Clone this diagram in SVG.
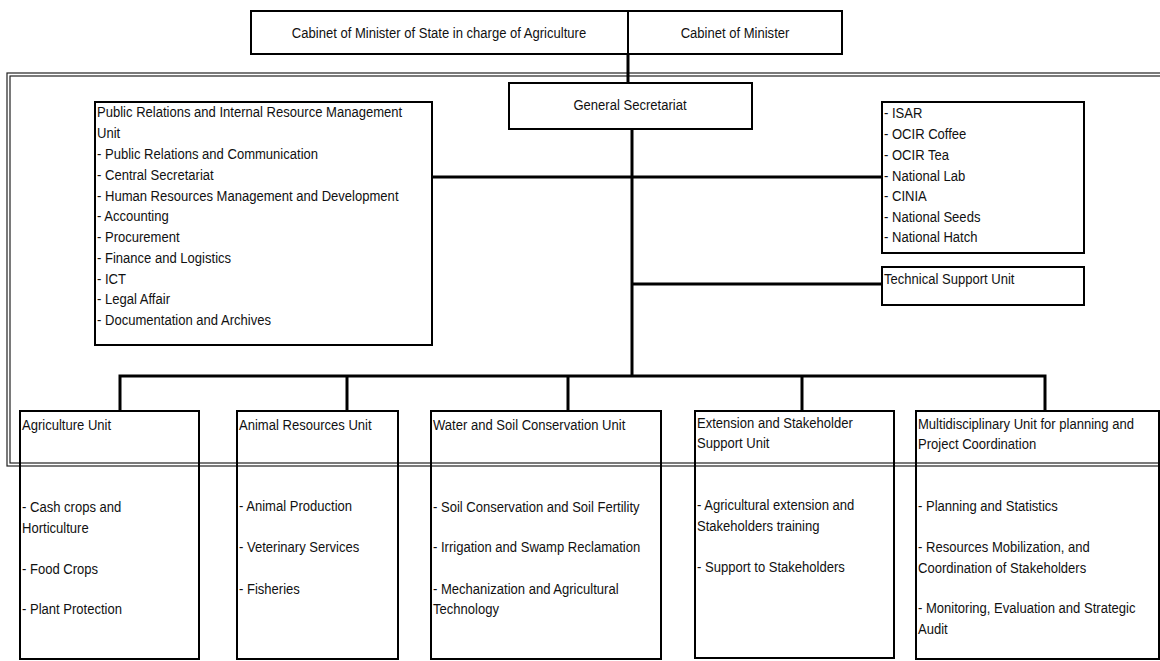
<svg xmlns="http://www.w3.org/2000/svg" width="1160" height="661" viewBox="0 0 1160 661">
  <style>
    .box { fill: none; stroke: #000; stroke-width: 2; }
    .frame { fill: none; stroke: #222; stroke-width: 1.2; }
    .link { fill: none; stroke: #000; stroke-width: 3; }
    text { font-family: "Liberation Sans", Arial, sans-serif; font-size: 15px; fill: #111; }
    .c text { text-anchor: middle; }
  </style>

  <!-- double outline around the ministry body -->
  <g id="frame">
    <rect class="frame" x="7" y="73" width="1165" height="393"/>
    <rect class="frame" x="10" y="76" width="1159" height="387"/>
  </g>

  <g id="connectors">
    <line class="link" x1="628" y1="54" x2="628" y2="83"/>
    <line class="link" x1="632" y1="129" x2="632" y2="376"/>
    <line class="link" x1="432" y1="177" x2="882" y2="177"/>
    <line class="link" x1="632" y1="284" x2="882" y2="284"/>
    <polyline class="link" points="120,411 120,376 1045,376 1045,411"/>
    <line class="link" x1="347" y1="376" x2="347" y2="411"/>
    <line class="link" x1="568" y1="376" x2="568" y2="411"/>
    <line class="link" x1="802" y1="376" x2="802" y2="411"/>
  </g>

  <g id="cabinet-state">
    <rect class="box" x="251" y="11" width="377" height="43"/>
    <g class="c" transform="translate(439 0) scale(0.87 1)">
      <text y="38">Cabinet of Minister of State in charge of Agriculture</text>
    </g>
  </g>

  <g id="cabinet-minister">
    <rect class="box" x="628" y="11" width="214" height="43"/>
    <g class="c" transform="translate(735 0) scale(0.87 1)">
      <text y="38">Cabinet of Minister</text>
    </g>
  </g>

  <g id="general-secretariat">
    <rect class="box" x="509" y="83" width="243" height="46"/>
    <g class="c" transform="translate(630 0) scale(0.87 1)">
      <text y="110">General Secretariat</text>
    </g>
  </g>

  <g id="public-relations">
    <rect class="box" x="95" y="102" width="337" height="243"/>
    <g transform="translate(97 0) scale(0.87 1)">
      <text y="117">Public Relations and Internal Resource Management</text>
      <text y="138">Unit</text>
      <text y="159">- Public Relations and Communication</text>
      <text y="180">- Central Secretariat</text>
      <text y="201">- Human Resources Management and Development</text>
      <text y="221">- Accounting</text>
      <text y="242">- Procurement</text>
      <text y="263">- Finance and Logistics</text>
      <text y="284">- ICT</text>
      <text y="304">- Legal Affair</text>
      <text y="325">- Documentation and Archives</text>
    </g>
  </g>

  <g id="affiliated-agencies">
    <rect class="box" x="882" y="102" width="202" height="151"/>
    <g transform="translate(884 0) scale(0.87 1)">
      <text y="118">- ISAR</text>
      <text y="139">- OCIR Coffee</text>
      <text y="160">- OCIR Tea</text>
      <text y="181">- National Lab</text>
      <text y="201">- CINIA</text>
      <text y="222">- National Seeds</text>
      <text y="242">- National Hatch</text>
    </g>
  </g>

  <g id="technical-support">
    <rect class="box" x="882" y="267" width="202" height="38"/>
    <g transform="translate(884 0) scale(0.87 1)">
      <text y="284">Technical Support Unit</text>
    </g>
  </g>

  <g id="agriculture-unit">
    <rect class="box" x="20" y="411" width="179" height="248"/>
    <g transform="translate(22 0) scale(0.87 1)">
      <text y="430">Agriculture Unit</text>
      <text y="512">- Cash crops and</text>
      <text y="533">Horticulture</text>
      <text y="574">- Food Crops</text>
      <text y="614">- Plant Protection</text>
    </g>
  </g>

  <g id="animal-resources-unit">
    <rect class="box" x="237" y="411" width="161" height="248"/>
    <g transform="translate(239 0) scale(0.87 1)">
      <text y="430">Animal Resources Unit</text>
      <text y="511">- Animal Production</text>
      <text y="552">- Veterinary Services</text>
      <text y="594">- Fisheries</text>
    </g>
  </g>

  <g id="water-soil-unit">
    <rect class="box" x="431" y="411" width="230" height="248"/>
    <g transform="translate(433 0) scale(0.87 1)">
      <text y="430">Water and Soil Conservation Unit</text>
      <text y="512">- Soil Conservation and Soil Fertility</text>
      <text y="552">- Irrigation and Swamp Reclamation</text>
      <text y="594">- Mechanization and Agricultural</text>
      <text y="614">Technology</text>
    </g>
  </g>

  <g id="extension-unit">
    <rect class="box" x="695" y="411" width="199" height="247"/>
    <g transform="translate(697 0) scale(0.87 1)">
      <text y="428">Extension and Stakeholder</text>
      <text y="448">Support Unit</text>
      <text y="510">- Agricultural extension and</text>
      <text y="531">Stakeholders training</text>
      <text y="572">- Support to Stakeholders</text>
    </g>
  </g>

  <g id="planning-unit">
    <rect class="box" x="916" y="411" width="243" height="248"/>
    <g transform="translate(918 0) scale(0.87 1)">
      <text y="429">Multidisciplinary Unit for planning and</text>
      <text y="449">Project Coordination</text>
      <text y="511">- Planning and Statistics</text>
      <text y="552">- Resources Mobilization, and</text>
      <text y="573">Coordination of Stakeholders</text>
      <text y="613">- Monitoring, Evaluation and Strategic</text>
      <text y="634">Audit</text>
    </g>
  </g>
</svg>
